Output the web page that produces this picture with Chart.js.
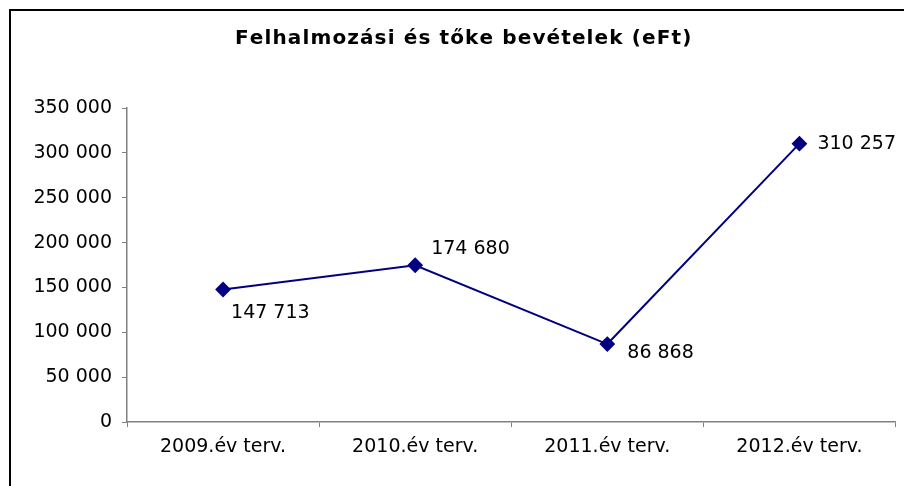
<!DOCTYPE html>
<html>
<head>
<meta charset="utf-8">
<script src="https://cdn.jsdelivr.net/npm/chart.js@4"></script>
<style>
  html, body { margin: 0; padding: 0; background: #fff; }
  #wrap { width: 904px; height: 486px; position: relative; }
</style>
</head>
<body>
<div id="wrap"><canvas id="chart" width="904" height="486"></canvas></div>
<script>
const chartTitle = 'Felhalmozási és tőke bevételek (eFt)';
const categories = ['2009.év terv.', '2010.év terv.', '2011.év terv.', '2012.év terv.'];
const values = [147713, 174680, 86868, 310257];
const yTicks = [0, 50000, 100000, 150000, 200000, 250000, 300000, 350000];

// eltolás a pont címkéihez (dx, dy)
const labelOffsets = [[8, 24], [16, -16], [20, 9], [18, 0]];

const FONT = '"DejaVu Sans", sans-serif';

function fmt(n) {
    return String(n).replace(/\B(?=(\d{3})+(?!\d))/g, ' ');
}

// keret és cím
const framePlugin = {
    id: 'frame',
    afterDraw(chart) {
        const ctx = chart.ctx;
        ctx.save();
        ctx.strokeStyle = '#000';
        ctx.lineWidth = 2;
        ctx.beginPath();
        ctx.moveTo(10, 490);
        ctx.lineTo(10, 10);
        ctx.lineTo(910, 10);
        ctx.stroke();

        // cím, ritkított betűközzel, a 235..690 sávba illesztve
        ctx.fillStyle = '#000';
        ctx.font = 'bold 20px ' + FONT;
        ctx.textBaseline = 'middle';
        ctx.textAlign = 'left';
        const chars = Array.from(chartTitle);
        const plain = ctx.measureText(chartTitle).width;
        const gap = Math.max(0, (455 - plain) / (chars.length - 1));
        let x = 235;
        chars.forEach(c => {
            ctx.fillText(c, x, 39);
            x += ctx.measureText(c).width + gap;
        });
        ctx.restore();
    }
};

// adatcímkék
const labelPlugin = {
    id: 'pointLabels',
    afterDatasetsDraw(chart) {
        const ctx = chart.ctx;
        const meta = chart.getDatasetMeta(0);
        ctx.save();
        ctx.fillStyle = '#000';
        ctx.font = '19px ' + FONT;
        ctx.textAlign = 'left';
        ctx.textBaseline = 'middle';
        meta.data.forEach((pt, i) => {
            const off = labelOffsets[i];
            ctx.fillText(fmt(values[i]), pt.x + off[0], pt.y + off[1]);
        });
        ctx.restore();
    }
};

new Chart(document.getElementById('chart'), {
    type: 'line',
    data: {
        labels: categories,
        datasets: [{
            data: values,
            borderColor: '#000080',
            backgroundColor: '#000080',
            borderWidth: 2,
            pointStyle: 'rectRot',
            pointRadius: 6.5,
            pointHoverRadius: 6.5,
            tension: 0
        }]
    },
    options: {
        responsive: false,
        animation: false,
        layout: { padding: { top: 108, right: 6, left: 0, bottom: 0 } },
        plugins: {
            legend: { display: false },
            title: { display: false },
            tooltip: { enabled: false }
        },
        scales: {
            x: {
                offset: true,
                grid: { drawOnChartArea: false, drawTicks: true, tickLength: 5, offset: true, color: '#808080' },
                border: { color: '#808080', width: 1.5 },
                ticks: { color: '#000', font: { family: FONT, size: 19 }, padding: 9 },
                afterFit(scale) { scale.height = 64; }
            },
            y: {
                min: 0,
                max: 350000,
                afterBuildTicks(scale) { scale.ticks = yTicks.map(v => ({ value: v })); },
                grid: { drawOnChartArea: false, drawTicks: true, tickLength: 5, color: '#808080' },
                border: { color: '#808080', width: 1.5 },
                ticks: {
                    color: '#000',
                    font: { family: FONT, size: 19 },
                    padding: 10,
                    callback: v => fmt(v)
                },
                afterFit(scale) { scale.width = 127; }
            }
        }
    },
    plugins: [framePlugin, labelPlugin]
});
</script>
</body>
</html>
